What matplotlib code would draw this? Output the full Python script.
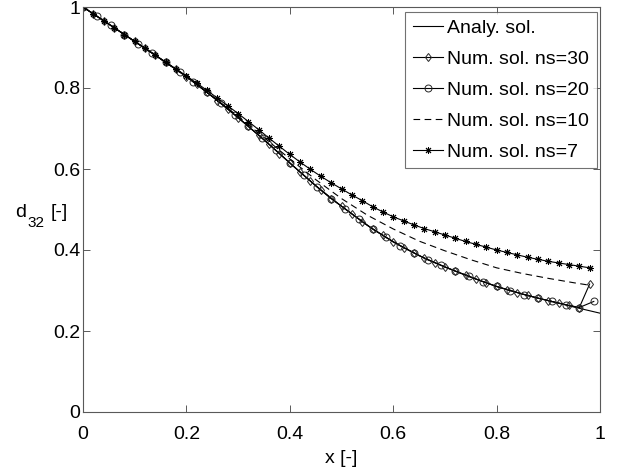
#!/usr/bin/env python3
"""d32 along x: analytical solution vs numerical solutions for several ns."""

import numpy as np
import matplotlib
matplotlib.use("Agg")
import matplotlib.pyplot as plt

plt.rcParams["font.family"] = ["Liberation Sans", "DejaVu Sans"]

# analytical solution
x_an = [0.00, 0.05, 0.10, 0.15, 0.20, 0.25, 0.30, 0.35, 0.40, 0.45, 0.50,
        0.55, 0.60, 0.65, 0.70, 0.75, 0.80, 0.85, 0.90, 0.95, 1.00]
d_an = [1.000, 0.958, 0.915, 0.872, 0.828, 0.779, 0.727, 0.672, 0.615, 0.559, 0.508,
        0.461, 0.420, 0.386, 0.358, 0.333, 0.310, 0.291, 0.275, 0.259, 0.244]

# ns=30 (diamonds), grid step 0.02 up to 0.98
x_ns30 = np.round(np.arange(0, 0.99, 0.02), 2)
d_ns30 = [1.000, 0.983, 0.966, 0.949, 0.932, 0.915, 0.898, 0.881, 0.863, 0.846,
          0.828, 0.809, 0.789, 0.769, 0.748, 0.727, 0.705, 0.683, 0.661, 0.638,
          0.615, 0.592, 0.570, 0.548, 0.527, 0.508, 0.489, 0.470, 0.452, 0.436,
          0.420, 0.406, 0.393, 0.380, 0.369, 0.358, 0.348, 0.338, 0.328, 0.319,
          0.310, 0.302, 0.295, 0.288, 0.281, 0.275, 0.269, 0.263, 0.258, 0.316]

# ns=20 (circles)
x_ns20 = [0.0000, 0.0267, 0.0533, 0.0800, 0.1067, 0.1333, 0.1600, 0.1867, 0.2133,
          0.2400, 0.2667, 0.2933, 0.3200, 0.3467, 0.3733, 0.4000, 0.4267, 0.4533,
          0.4800, 0.5067, 0.5333, 0.5600, 0.5867, 0.6133, 0.6400, 0.6667, 0.6933,
          0.7200, 0.7467, 0.7733, 0.8000, 0.8267, 0.8533, 0.8800, 0.9067, 0.9333,
          0.9600, 0.9880]
d_ns20 = [1.000, 0.977, 0.955, 0.932, 0.909, 0.887, 0.863, 0.840, 0.815,
          0.789, 0.762, 0.734, 0.705, 0.676, 0.646, 0.615, 0.585, 0.555,
          0.527, 0.502, 0.477, 0.452, 0.431, 0.411, 0.393, 0.376, 0.362,
          0.348, 0.335, 0.322, 0.310, 0.300, 0.290, 0.281, 0.273, 0.265,
          0.258, 0.273]

# ns=10 (dashed, no markers)
x_ns10 = [0.00, 0.05, 0.10, 0.15, 0.20, 0.25, 0.30, 0.35, 0.40, 0.45, 0.50,
          0.55, 0.60, 0.65, 0.70, 0.75, 0.80, 0.85, 0.90, 0.95, 0.98]
d_ns10 = [1.000, 0.958, 0.915, 0.872, 0.829, 0.780, 0.730, 0.678, 0.625, 0.574, 0.527,
          0.486, 0.452, 0.422, 0.398, 0.376, 0.356, 0.342, 0.330, 0.319, 0.313]

# ns=7 (asterisks)
x_ns7 = np.round(np.arange(0, 0.99, 0.02), 2)
d_ns7 = [1.000, 0.983, 0.966, 0.949, 0.932, 0.915, 0.898, 0.881, 0.864, 0.847,
         0.830, 0.812, 0.794, 0.775, 0.756, 0.737, 0.717, 0.697, 0.676, 0.656,
         0.636, 0.617, 0.599, 0.582, 0.566, 0.551, 0.536, 0.522, 0.507, 0.494,
         0.482, 0.472, 0.462, 0.453, 0.445, 0.437, 0.429, 0.421, 0.414, 0.407,
         0.400, 0.394, 0.388, 0.382, 0.377, 0.372, 0.368, 0.364, 0.360, 0.356]

x_ticks = [0, 0.2, 0.4, 0.6, 0.8, 1]
y_ticks = [0, 0.2, 0.4, 0.6, 0.8, 1]
x_ticklabels = ["0", "0.2", "0.4", "0.6", "0.8", "1"]
y_ticklabels = ["0", "0.2", "0.4", "0.6", "0.8", "1"]

W, H = 623, 475


def main() -> None:
    fig = plt.figure(figsize=(W / 100, H / 100), dpi=100)
    ax = fig.add_axes([83 / W, 1 - 412 / H, 517 / W, 405 / H])

    lw = 0.8
    ax.plot(x_an, d_an, "-", color="k", lw=lw, label="Analy. sol.")
    ax.plot(x_ns30, d_ns30, "-", color="k", lw=lw, marker="d", ms=4.5,
            mfc="none", mec="0.15", mew=0.7, label="Num. sol. ns=30")
    ax.plot(x_ns20, d_ns20, "-", color="k", lw=lw, marker="o", ms=5,
            mfc="none", mec="0.15", mew=0.7, label="Num. sol. ns=20")
    ax.plot(x_ns10, d_ns10, "--", color="k", lw=lw, dashes=(6, 4),
            label="Num. sol. ns=10")
    ax.plot(x_ns7, d_ns7, "-", color="k", lw=lw, marker=(8, 2, 0), ms=5,
            mec="k", mew=0.7, label="Num. sol. ns=7")

    ax.set_xlim(0, 1)
    ax.set_ylim(0, 1)
    ax.set_xticks(x_ticks)
    ax.set_xticklabels(x_ticklabels)
    ax.set_yticks(y_ticks)
    ax.set_yticklabels(y_ticklabels)
    ax.tick_params(direction="in", length=5, width=0.7, top=True, right=True,
                   labelsize=14)
    ax.tick_params(axis="x", pad=10, colors="0.35", labelcolor="k")
    ax.tick_params(axis="y", pad=2, colors="0.35", labelcolor="k")
    for s in ax.spines.values():
        s.set_color("0.35")
        s.set_linewidth(0.8)

    ax.set_xlabel("x [-]", fontsize=14, labelpad=5)

    # y label "d32 [-]" written horizontally, subscript as its own text
    fig.text(15 / W, 1 - 217 / H, "d", fontsize=14, ha="left", va="baseline")
    fig.text(27 / W, 1 - 227 / H, "32", fontsize=11, ha="left", va="baseline")
    fig.text(51 / W, 1 - 217 / H, "[-]", fontsize=14, ha="left", va="baseline")

    leg = ax.legend(loc="upper right", bbox_to_anchor=(0.994, 0.988),
                    borderaxespad=0, fontsize=14, frameon=True, fancybox=False,
                    handlelength=1.55, handletextpad=0.2, labelspacing=0.68,
                    borderpad=0.4)
    leg.get_frame().set_edgecolor("0.3")
    leg.get_frame().set_linewidth(0.8)

    fig.savefig("out.png", dpi=100)
    plt.close(fig)


if __name__ == "__main__":
    main()
